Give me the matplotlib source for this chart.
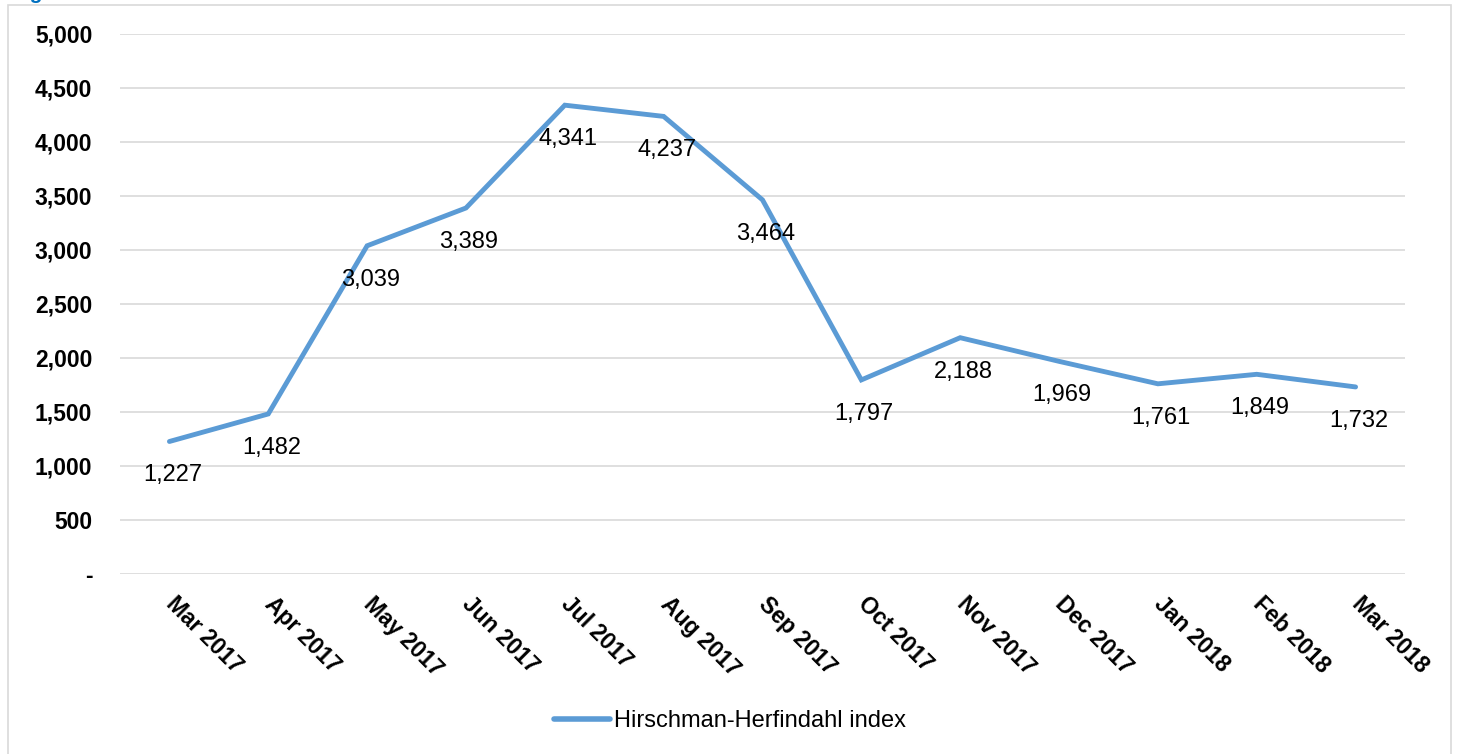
import matplotlib
matplotlib.use("Agg")
import matplotlib.pyplot as plt
from matplotlib.patches import Rectangle
from matplotlib.ticker import FuncFormatter

plt.rcParams['font.family'] = ['Liberation Sans', 'DejaVu Sans']

months = ["Mar 2017", "Apr 2017", "May 2017", "Jun 2017", "Jul 2017", "Aug 2017",
          "Sep 2017", "Oct 2017", "Nov 2017", "Dec 2017", "Jan 2018", "Feb 2018", "Mar 2018"]
hhi = [1227, 1482, 3039, 3389, 4341, 4237, 3464, 1797, 2188, 1969, 1761, 1849, 1732]
y_ticks = [0, 500, 1000, 1500, 2000, 2500, 3000, 3500, 4000, 4500, 5000]
series_name = "Hirschman-Herfindahl index"

W, H = 1458, 754
fig = plt.figure(figsize=(W / 100, H / 100), dpi=100)

# outer frame of the chart object
fig.patches.append(Rectangle((8 / W, -0.05), (1451 - 8) / W, 1.05 - 5 / H,
                             transform=fig.transFigure, fill=False,
                             edgecolor="#D9D9D9", linewidth=1.2))
# caption heading sitting just above the top edge
fig.text(12 / W, 1 + 1 / H, "Figure", color="#0070C0", fontsize=15,
         fontweight="bold", ha="left", va="baseline")

ax = fig.add_axes([120 / W, 1 - 574 / H, (1405 - 120) / W, (574 - 34) / H])
line_color = "#5B9BD5"
x = list(range(len(months)))
ax.plot(x, hhi, color=line_color, linewidth=3.5, solid_capstyle="round",
        solid_joinstyle="miter", label=series_name, zorder=3)

for xi, v in zip(x, hhi):
    ax.annotate(f"{v:,}", (xi, v), xytext=(3, -34), textcoords="offset pixels",
                ha="center", va="center", fontsize=17, color="black", zorder=4)

ax.set_xlim(-0.5, len(months) - 0.5)
ax.set_ylim(0, 5000)
ax.set_yticks(y_ticks)
ax.yaxis.set_major_formatter(FuncFormatter(lambda v, p: "-" if v == 0 else f"{int(v):,}"))
ax.grid(axis="y", color="#D9D9D9", linewidth=1.2, zorder=0)
ax.set_axisbelow(True)
for s in ax.spines.values():
    s.set_visible(False)
ax.tick_params(axis="y", length=0, pad=20, labelsize=16.5)
for lbl in ax.get_yticklabels():
    lbl.set_fontweight("bold")

ax.set_xticks(x)
ax.set_xticklabels(months, rotation=-45, ha="left", va="center",
                   rotation_mode="anchor", fontsize=16.5, fontweight="bold")
ax.tick_params(axis="x", length=0, pad=19)

leg = fig.legend(loc="center", bbox_to_anchor=(730 / W, 1 - 721 / H), frameon=False,
                 fontsize=17, handlelength=2.37, handletextpad=0.17)
for h in leg.get_lines():
    h.set_linewidth(4)

fig.savefig("out.png", dpi=100)
